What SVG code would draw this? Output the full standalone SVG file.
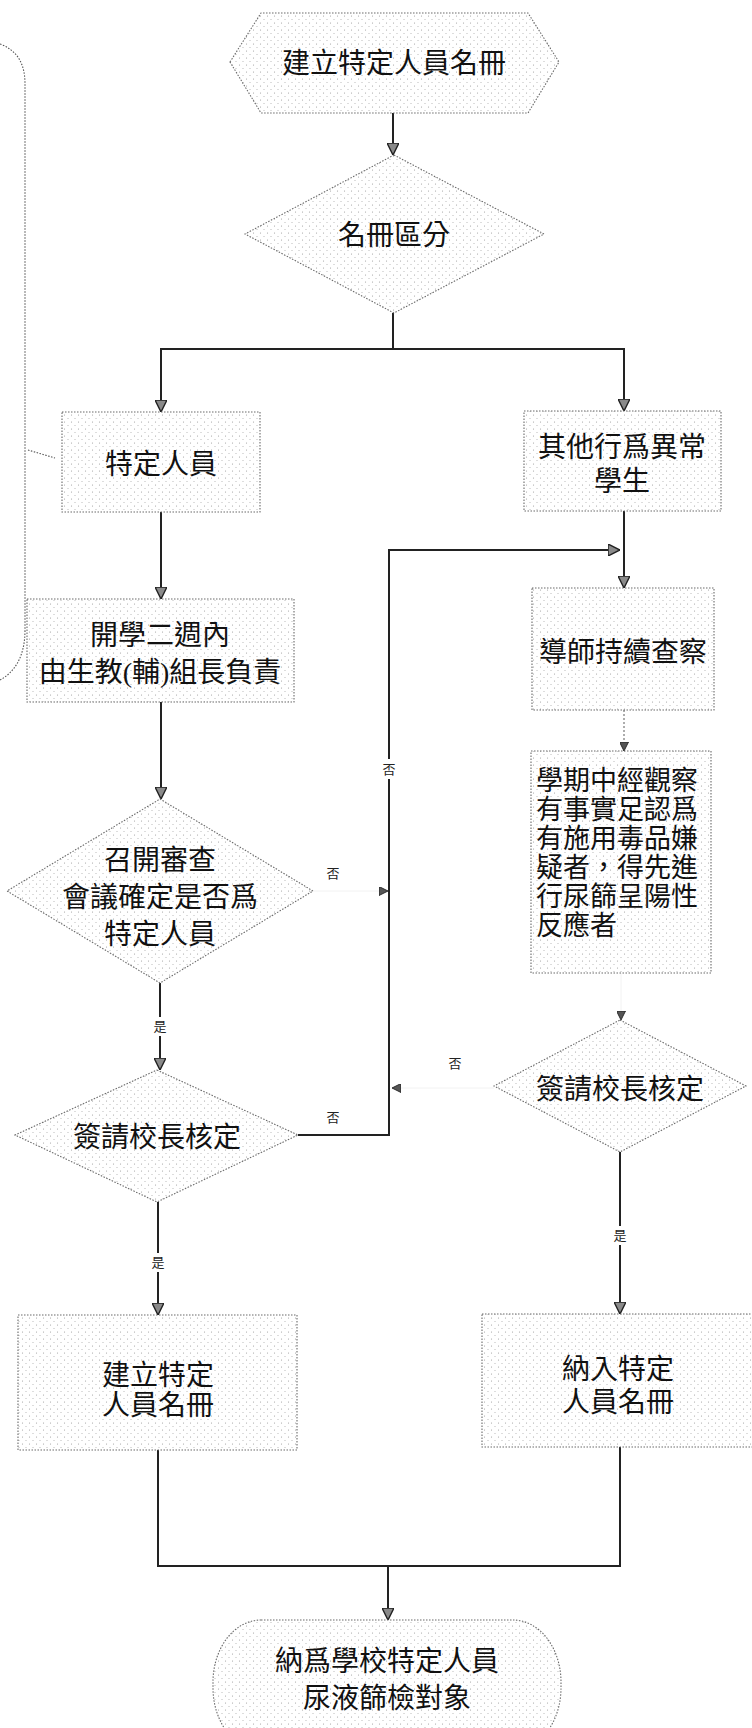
<svg xmlns="http://www.w3.org/2000/svg" width="752" height="1728" viewBox="0 0 752 1728">
<defs>
<pattern id="stip" width="7" height="7" patternUnits="userSpaceOnUse">
<rect width="7" height="7" fill="#ffffff"/>
<circle cx="1.5" cy="2" r="0.55" fill="#9a9a9a"/>
<circle cx="5" cy="5.5" r="0.55" fill="#b0b0b0"/>
</pattern>
<marker id="arr" viewBox="0 0 10 10" refX="10" refY="5" markerWidth="12" markerHeight="12" markerUnits="userSpaceOnUse" orient="auto">
<path d="M0,0 L10,5 L0,10 z" fill="#8a8a8a" stroke="#222" stroke-width="1.2"/>
</marker>
<marker id="sarr" viewBox="0 0 10 10" refX="10" refY="5" markerWidth="9" markerHeight="9" markerUnits="userSpaceOnUse" orient="auto">
<path d="M0,0 L10,5 L0,10 z" fill="#555" stroke="#222" stroke-width="1"/>
</marker>
<style>
.shape{fill:url(#stip);stroke:#6a6a6a;stroke-width:1.1;stroke-dasharray:1.5 1.5}
.t{font-family:"Liberation Serif","Noto Sans CJK TC",serif;font-size:28px;fill:#111;text-anchor:middle;dominant-baseline:central}
.tl{font-family:"Liberation Serif","Noto Sans CJK TC",serif;font-size:27px;fill:#111;dominant-baseline:central}
.lab{font-family:"Liberation Serif","Noto Sans CJK TC",serif;font-size:13px;fill:#222;text-anchor:middle;dominant-baseline:central}
.c{fill:none;stroke:#222;stroke-width:2}
.cd{fill:none;stroke:#777;stroke-width:1.2;stroke-dasharray:2 2}
.cf{fill:none;stroke:#f2f2f2;stroke-width:1}
.callout{fill:none;stroke:#555;stroke-width:1.1;stroke-dasharray:1.5 1.5}
</style>
</defs>

<g id="callout">
<path class="callout" d="M0,44 C16,50 25,62 25,84 L25,630 C25,656 15,672 0,680"/>
<path class="callout" d="M28,450 L55,458"/>
</g>

<g id="connectors">
<path class="c" d="M393,113 L393,155" marker-end="url(#arr)"/>
<path class="c" d="M393,313 L393,349 L161,349 L161,412" marker-end="url(#arr)"/>
<path class="c" d="M393,349 L624,349 L624,411" marker-end="url(#arr)"/>
<path class="c" d="M161,512 L161,599" marker-end="url(#arr)"/>
<path class="c" d="M624,511 L624,588" marker-end="url(#arr)"/>
<path class="c" d="M161,702 L161,799" marker-end="url(#arr)"/>
<path class="c" d="M298,1135 L389,1135 L389,550 L620,550" marker-end="url(#arr)"/>
<path class="cd" d="M624,710 L624,751" marker-end="url(#sarr)"/>
<path class="cf" d="M313,891 L388,891" marker-end="url(#sarr)"/>
<path class="cf" d="M621,973 L621,1020" marker-end="url(#sarr)"/>
<path class="cf" d="M494,1088 L392,1088" marker-end="url(#sarr)"/>
<path class="c" d="M160,983 L160,1070" marker-end="url(#arr)"/>
<path class="c" d="M158,1202 L158,1315" marker-end="url(#arr)"/>
<path class="c" d="M620,1152 L620,1314" marker-end="url(#arr)"/>
<path class="c" d="M158,1450 L158,1566 L620,1566 L620,1447"/>
<path class="c" d="M388,1566 L388,1620" marker-end="url(#arr)"/>
<rect x="381" y="759" width="16" height="20" fill="#fff"/>
<text class="lab" x="389" y="769">否</text>
<text class="lab" x="333" y="873">否</text>
<text class="lab" x="333" y="1117">否</text>
<text class="lab" x="455" y="1063">否</text>
<rect x="152" y="1017" width="16" height="19" fill="#fff"/>
<text class="lab" x="160" y="1026">是</text>
<rect x="150" y="1253" width="16" height="19" fill="#fff"/>
<text class="lab" x="158" y="1262">是</text>
<rect x="612" y="1226" width="16" height="19" fill="#fff"/>
<text class="lab" x="620" y="1235">是</text>
</g>

<g id="start">
<polygon class="shape" points="230,62 261,13 528,13 559,62 528,113 261,113"/>
<text class="t" x="394" y="63">建立特定人員名冊</text>
</g>

<g id="d-divide">
<polygon class="shape" points="394,155 544,234 394,313 245,234"/>
<text class="t" x="394" y="235">名冊區分</text>
</g>

<g id="b-specific">
<rect class="shape" x="62" y="412" width="198" height="100"/>
<text class="t" x="161" y="464">特定人員</text>
</g>

<g id="b-other">
<rect class="shape" x="524" y="411" width="197" height="100"/>
<text class="t" x="622" y="447">其他行爲異常</text>
<text class="t" x="622" y="481">學生</text>
</g>

<g id="b-start-term">
<rect class="shape" x="27" y="599" width="267" height="103"/>
<text class="t" x="160" y="635">開學二週內</text>
<text class="t" x="160" y="672">由生教(輔)組長負責</text>
</g>

<g id="b-tutor">
<rect class="shape" x="532" y="588" width="182" height="122"/>
<text class="t" x="623" y="652">導師持續查察</text>
</g>

<g id="d-review">
<polygon class="shape" points="160,799 313,891 160,983 7,891"/>
<text class="t" x="160" y="860">召開審查</text>
<text class="t" x="160" y="897">會議確定是否爲</text>
<text class="t" x="160" y="934">特定人員</text>
</g>

<g id="b-observe">
<rect class="shape" x="531" y="751" width="180" height="222"/>
<text class="tl" x="536" y="781">學期中經觀察</text>
<text class="tl" x="536" y="810">有事實足認爲</text>
<text class="tl" x="536" y="839">有施用毒品嫌</text>
<text class="tl" x="536" y="868">疑者，得先進</text>
<text class="tl" x="536" y="897">行尿篩呈陽性</text>
<text class="tl" x="536" y="926">反應者</text>
</g>

<g id="d-approve-right">
<polygon class="shape" points="620,1020 746,1086 620,1152 494,1086"/>
<text class="t" x="620" y="1089">簽請校長核定</text>
</g>

<g id="d-approve-left">
<polygon class="shape" points="157,1070 298,1135 157,1202 15,1135"/>
<text class="t" x="157" y="1137">簽請校長核定</text>
</g>

<g id="b-build">
<rect class="shape" x="18" y="1315" width="279" height="135"/>
<text class="t" x="158" y="1375">建立特定</text>
<text class="t" x="158" y="1405">人員名冊</text>
</g>

<g id="b-include">
<rect class="shape" x="482" y="1314" width="276" height="133"/>
<text class="t" x="618" y="1369">納入特定</text>
<text class="t" x="618" y="1402">人員名冊</text>
</g>

<g id="end">
<rect class="shape" x="213" y="1620" width="348" height="130" rx="48" ry="62"/>
<text class="t" x="387" y="1661">納爲學校特定人員</text>
<text class="t" x="387" y="1698">尿液篩檢對象</text>
</g>
</svg>
